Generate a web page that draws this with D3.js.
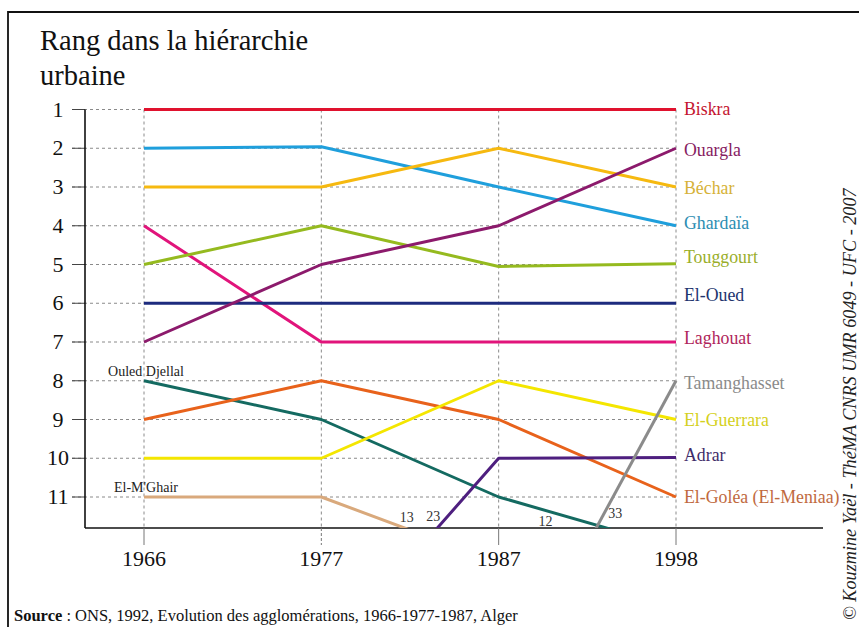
<!DOCTYPE html>
<html lang="fr">
<head>
<meta charset="utf-8">
<script src="https://cdn.jsdelivr.net/npm/d3@7/dist/d3.min.js"></script>
<style>
  html, body { margin: 0; padding: 0; background: #fff; }
  svg { display: block; font-family: "Liberation Serif", "DejaVu Serif", serif; }
</style>
</head>
<body>
<svg id="chart" width="859" height="627"></svg>
<script>
// Census years
const years = [1966, 1977, 1987, 1998];

// Rank tick labels on the vertical axis
const rankTicks = [1, 2, 3, 4, 5, 6, 7, 8, 9, 10, 11];

// Urban ranks per town (null = not ranked / not drawn)
const biskra       = [1, 1, 1, 1];
const ouargla      = [7, 5, 4, 2];
const bechar       = [3, 3, 2, 3];
const ghardaia     = [2, 1.96, 3, 4];
const touggourt    = [5, 4, 5.05, 4.98];
const elOued       = [6, 6, 6, 6];
const laghouat     = [4, 7, 7, 7];
const tamanghasset = [null, null, 33, 8];
const elGuerrara   = [10, 10, 8, 9];
const adrar        = [null, 23, 10, 9.98];
const elGolea      = [9, 8, 9, 11];
const ouledDjellal = [8, 9, 11, 12];
const elMghair     = [11, 11, 13, null];

// Town names, in the order of the right-hand labels
const townNames = ["Biskra", "Ouargla", "Béchar", "Ghardaïa", "Touggourt", "El-Oued",
                   "Laghouat", "Tamanghasset", "El-Guerrara", "Adrar", "El-Goléa (El-Meniaa)"];
// Towns that leave the top-11 and are labelled on their left end
const droppedNames = ["Ouled Djellal", "El-M'Ghair"];

const series = [
  { name: townNames[0],  values: biskra,       line: "#e0122e", text: "#c4142f" },
  { name: townNames[1],  values: ouargla,      line: "#8c1a6c", text: "#862061" },
  { name: townNames[2],  values: bechar,       line: "#f6b910", text: "#d6b238" },
  { name: townNames[3],  values: ghardaia,     line: "#1f9fdc", text: "#2c8db2" },
  { name: townNames[4],  values: touggourt,    line: "#95ba1f", text: "#9aae2a" },
  { name: townNames[5],  values: elOued,       line: "#1d2b7e", text: "#22346e" },
  { name: townNames[6],  values: laghouat,     line: "#e1147b", text: "#b0255b" },
  { name: townNames[7],  values: tamanghasset, line: "#8b8b8b", text: "#8a8a8a" },
  { name: townNames[8],  values: elGuerrara,   line: "#f4e600", text: "#d4d020" },
  { name: townNames[9],  values: adrar,        line: "#4e1f7f", text: "#3f2c69" },
  { name: townNames[10], values: elGolea,      line: "#e8621b", text: "#c0693e" },
  { name: droppedNames[0], values: ouledDjellal, line: "#146a61", text: null },
  { name: droppedNames[1], values: elMghair,     line: "#d9a97c", text: null }
];

// Vertical nudges (px) that spread the right-hand labels evenly
const labelNudge = [-1, 2, 1, -3, -7, -8, -4, 2, 0, -2, 0];

const svg = d3.select("#chart");
const W = 859, H = 627;

// Plot geometry
const axisX = 85, axisY = 528, axisRight = 823;
const x = d3.scalePoint().domain(years).range([144, 676]);
// Ranks 1-11 are evenly spaced; ranks beyond 11 fall below the axis in a compressed band
const y = d3.scaleLinear()
  .domain([1, 11, 12, 13, 23, 33])
  .range([109.5, 497, 548, 563, 660, 708]);

// Outer frame (top and left edges)
svg.append("path")
  .attr("d", `M8,${H} V12 H${W}`)
  .attr("fill", "none").attr("stroke", "#111").attr("stroke-width", 1.8);

// Title
const title = svg.append("text").attr("x", 40).attr("y", 50)
  .attr("font-size", 28.5).attr("fill", "#111");
title.append("tspan").attr("x", 40).text("Rang dans la hiérarchie");
title.append("tspan").attr("x", 40).attr("dy", 35).text("urbaine");

// Horizontal dashed gridlines with solid stubs at the axis
const grid = svg.append("g");
grid.selectAll("line.h").data(rankTicks).join("line")
  .attr("x1", 72).attr("x2", x(1998))
  .attr("y1", d => y(d)).attr("y2", d => y(d))
  .attr("stroke", "#8a8a8a").attr("stroke-width", 1).attr("stroke-dasharray", "3,3");
grid.selectAll("line.stub").data(rankTicks).join("line")
  .attr("x1", 72).attr("x2", axisX)
  .attr("y1", d => y(d)).attr("y2", d => y(d))
  .attr("stroke", "#444").attr("stroke-width", 1);

// Vertical dashed gridlines at the census years
grid.selectAll("line.v").data(years).join("line")
  .attr("x1", d => x(d)).attr("x2", d => x(d))
  .attr("y1", y(1)).attr("y2", axisY)
  .attr("stroke", "#8a8a8a").attr("stroke-width", 1).attr("stroke-dasharray", "3,3");

// Axes
svg.append("line").attr("x1", axisX).attr("x2", axisX).attr("y1", y(1)).attr("y2", axisY)
  .attr("stroke", "#111").attr("stroke-width", 1.6);
svg.append("line").attr("x1", axisX).attr("x2", axisRight).attr("y1", axisY).attr("y2", axisY)
  .attr("stroke", "#111").attr("stroke-width", 1.6);

// Year ticks below the axis
svg.selectAll("line.xt").data(years).join("line")
  .attr("x1", d => x(d)).attr("x2", d => x(d))
  .attr("y1", axisY).attr("y2", axisY + 17)
  .attr("stroke", "#777").attr("stroke-width", 1)
  .attr("stroke-dasharray", (d, i) => i === 1 ? "3,2" : null);
svg.selectAll("text.xl").data(years).join("text")
  .attr("x", d => x(d)).attr("y", axisY + 38)
  .attr("text-anchor", "middle").attr("font-size", 22).attr("fill", "#111")
  .text(d => d);

// Rank labels
svg.selectAll("text.yl").data(rankTicks).join("text")
  .attr("x", 58).attr("y", d => y(d) + 7)
  .attr("text-anchor", "middle").attr("font-size", 22).attr("fill", "#111")
  .text(d => d);

// Clip the rank lines at the horizontal axis
svg.append("clipPath").attr("id", "plotClip")
  .append("rect").attr("x", axisX).attr("y", 0).attr("width", axisRight - axisX).attr("height", axisY);

const line = d3.line()
  .defined(d => d.v != null)
  .x(d => x(d.year))
  .y(d => y(d.v));

const lines = svg.append("g").attr("clip-path", "url(#plotClip)");
// Draw bottom-most first so the top ranks sit above
[...series].reverse().forEach(s => {
  const pts = years.map((yr, i) => ({ year: yr, v: s.values[i] }));
  lines.append("path")
    .datum(pts)
    .attr("d", line)
    .attr("fill", "none")
    .attr("stroke", s.line)
    .attr("stroke-width", 3)
    .attr("stroke-linejoin", "round");
});

// Town labels at the right end
series.filter(s => s.text).forEach((s, i) => {
  svg.append("text")
    .attr("x", 684).attr("y", y(s.values[3]) + 6 + labelNudge[i])
    .attr("font-size", 17.8).attr("fill", s.text)
    .text(s.name);
});

// Labels of towns that drop out, on their 1966 end
[ouledDjellal, elMghair].forEach((vals, i) => {
  svg.append("text")
    .attr("x", x(1966) + 2).attr("y", y(vals[0]) - 5)
    .attr("text-anchor", "middle").attr("font-size", 14).attr("fill", "#222")
    .text(droppedNames[i]);
});

// Off-scale ranks: label each where its segment meets the axis
const rankLimit = 11;
const offPlacement = {
  "El-M'Ghair":    { dx: 2,   dy: -6, anchor: "middle" },
  "Adrar":         { dx: 3,   dy: -7, anchor: "end" },
  "Ouled Djellal": { dx: -61, dy: -2, anchor: "middle" },
  "Tamanghasset":  { dx: 19,  dy: -10, anchor: "middle" }
};
series.forEach(s => {
  for (let i = 0; i < years.length - 1; i++) {
    const a = s.values[i], b = s.values[i + 1];
    if (a == null || b == null) continue;
    const off = a > rankLimit ? a : (b > rankLimit ? b : null);
    if (off == null) continue;
    const x0 = x(years[i]), x1 = x(years[i + 1]);
    const y0 = y(a), y1 = y(b);
    const cx = x0 + (axisY - y0) / (y1 - y0) * (x1 - x0);
    const p = offPlacement[s.name];
    svg.append("text")
      .attr("x", cx + p.dx).attr("y", axisY + p.dy)
      .attr("text-anchor", p.anchor).attr("font-size", 14).attr("fill", "#333")
      .text(off);
  }
});

// Source line
const src = svg.append("text").attr("x", 14).attr("y", 621)
  .attr("font-size", 16.5).attr("fill", "#111");
src.append("tspan").attr("font-weight", "bold").text("Source");
src.append("tspan").text(" : ONS, 1992, Evolution des agglomérations, 1966-1977-1987, Alger");

// Credit, written vertically along the right edge
svg.append("text")
  .attr("transform", "translate(856,620) rotate(-90)")
  .attr("font-size", 18.2).attr("font-style", "italic").attr("fill", "#222")
  .text("© Kouzmine Yaël - ThéMA CNRS UMR 6049 - UFC - 2007");
</script>
</body>
</html>
